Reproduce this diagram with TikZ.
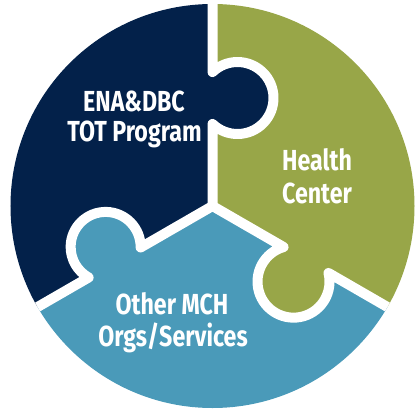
\documentclass[tikz,border=0pt]{standalone}
\usepackage{fontspec}
\newfontfamily\lblfont{Fira Sans}
\definecolor{navy}{HTML}{03214A}
\definecolor{olive}{HTML}{98A648}
\definecolor{teal}{HTML}{4A9AB9}
\newcommand{\lbltext}[1]{\scalebox{0.8}[1]{#1}}
\tikzset{
  gap/.style={draw=white, line width=10pt, line join=round},
  lbl/.style={text=white, font=\lblfont\bfseries\fontsize{29}{32}\selectfont, inner sep=0pt, anchor=base},
}
% #1 rotation, #2 along, #3 perp, #4 radius, #5 colour
\newcommand{\knobfill}[5]{%
  \begin{scope}[rotate=#1]
    \fill[#5] (#3,#2) circle[radius=#4];
  \end{scope}}
\newcommand{\knobgap}[4]{%
  \begin{scope}[rotate=#1]
    \pgfmathsetmacro{\hh}{sqrt((#4)*(#4)-(#3)*(#3))}
    \pgfmathsetmacro{\ph}{atan(\hh/(#3))}
    \draw[gap] (0,0) -- (0,{#2-\hh}) arc[start angle={-180+\ph}, end angle={180-\ph}, radius=#4] -- (0,260);
  \end{scope}}
\begin{document}
\begin{tikzpicture}[x=1pt,y=1pt]
\useasboundingbox (-212.5,-207) rectangle (204.5,206);
\begin{scope}
  \clip (0,0) circle[radius=202];
  \fill[navy] (0,0) -- (90:300) -- (150:300) -- (210:300) -- cycle;
  \fill[olive] (0,0) -- (90:300) -- (30:300) -- (-30:300) -- cycle;
  \fill[teal] (0,0) -- (210:300) -- (270:300) -- (330:300) -- cycle;
  \knobfill{0}{108}{25}{36}{navy}
  \knobfill{-120}{108}{25}{36}{olive}
  \knobfill{120}{113}{18}{35}{teal}
  \knobgap{0}{108}{25}{36}
  \knobgap{-120}{108}{25}{36}
  \knobgap{120}{113}{18}{35}
\end{scope}
\node[lbl] (ena) at (-78.5,95) {\lbltext{ENA\&DBC}};
\node[lbl] (tot) at (-78,65) {\lbltext{TOT Program}};
\node[lbl] (health) at (104.5,36) {\lbltext{Health}};
\node[lbl] (center) at (104.5,3) {\lbltext{Center}};
\node[lbl] (other) at (-40.5,-108) {\lbltext{Other MCH}};
\node[lbl] (orgs) at (-39.5,-140) {\lbltext{Orgs/Services}};
\end{tikzpicture}
\end{document}
